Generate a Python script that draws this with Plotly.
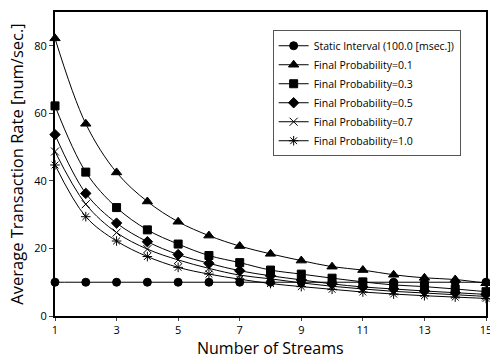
import plotly.graph_objects as go

streams = list(range(1, 16))
static_interval = [10] * 15
p01 = [82.2, 56.9, 42.5, 33.9, 27.9, 23.8, 20.7, 18.4, 16.4, 14.6, 13.6, 12.2, 11.3, 10.8, 9.7]
p03 = [62.2, 42.6, 32.1, 25.5, 21.3, 17.9, 15.8, 13.6, 12.4, 11.2, 10.1, 9.2, 8.7, 8.0, 7.2]
p05 = [53.7, 36.3, 27.5, 22.0, 18.2, 15.6, 13.4, 11.9, 10.7, 9.5, 8.6, 8.0, 7.4, 6.9, 6.4]
p07 = [48.7, 33.1, 24.7, 19.8, 16.6, 14.1, 12.1, 11.0, 9.8, 8.8, 8.0, 7.3, 6.8, 6.3, 5.8]
p10 = [44.7, 29.4, 22.2, 17.6, 14.4, 12.4, 10.9, 9.6, 8.7, 7.9, 7.1, 6.5, 6.0, 5.6, 5.2]
x_title = "Number of Streams"
y_title = "Average Transaction Rate [num/sec.]"

series = [
    ("Static Interval (100.0 [msec.])", static_interval, "circle", 8),
    ("Final Probability=0.1", p01, "triangle-up", 9),
    ("Final Probability=0.3", p03, "square", 8),
    ("Final Probability=0.5", p05, "diamond", 8),
    ("Final Probability=0.7", p07, "x-thin-open", 8),
    ("Final Probability=1.0", p10, "asterisk-open", 8),
]

fig = go.Figure()
for name, ys, sym, sz in series:
    fig.add_trace(go.Scatter(
        x=streams, y=ys, name=name, mode="lines+markers",
        line=dict(color="black", width=1, shape="spline"),
        marker=dict(symbol=sym, size=sz, color="black",
                    line=dict(color="black", width=1)),
        cliponaxis=False,
    ))

font = "Open Sans, Liberation Sans, sans-serif"
fig.update_layout(
    width=490, height=357,
    margin=dict(l=55, r=4, t=12, b=41),
    paper_bgcolor="white", plot_bgcolor="white",
    font=dict(family=font, size=11, color="black"),
    showlegend=True,
    legend=dict(x=0.505, y=0.94, xanchor="left", yanchor="top",
                bordercolor="#555", borderwidth=1, bgcolor="white",
                font=dict(size=10.5), tracegroupgap=0, itemwidth=30,
                yref="paper"),
    xaxis=dict(range=[1, 15], tickvals=[1, 3, 5, 7, 9, 11, 13, 15],
               showline=True, linecolor="black", linewidth=2, mirror=True,
               showgrid=False, zeroline=False, ticks="outside", ticklen=3,
               tickfont=dict(size=11), ticklabeloverflow="allow", automargin=False),
    yaxis=dict(range=[0, 90], tickvals=[0, 20, 40, 60, 80],
               showline=True, linecolor="black", linewidth=2, mirror=True,
               showgrid=False, zeroline=False, ticks="outside", ticklen=4,
               tickfont=dict(size=11), automargin=False,
               title=dict(text=y_title, font=dict(size=16.5), standoff=6)),
    annotations=[dict(text=x_title, xref="paper", yref="paper", x=0.5, y=0,
                      xanchor="center", yanchor="top", yshift=-19, showarrow=False,
                      font=dict(size=16))],
)

fig.write_html("out.html")
